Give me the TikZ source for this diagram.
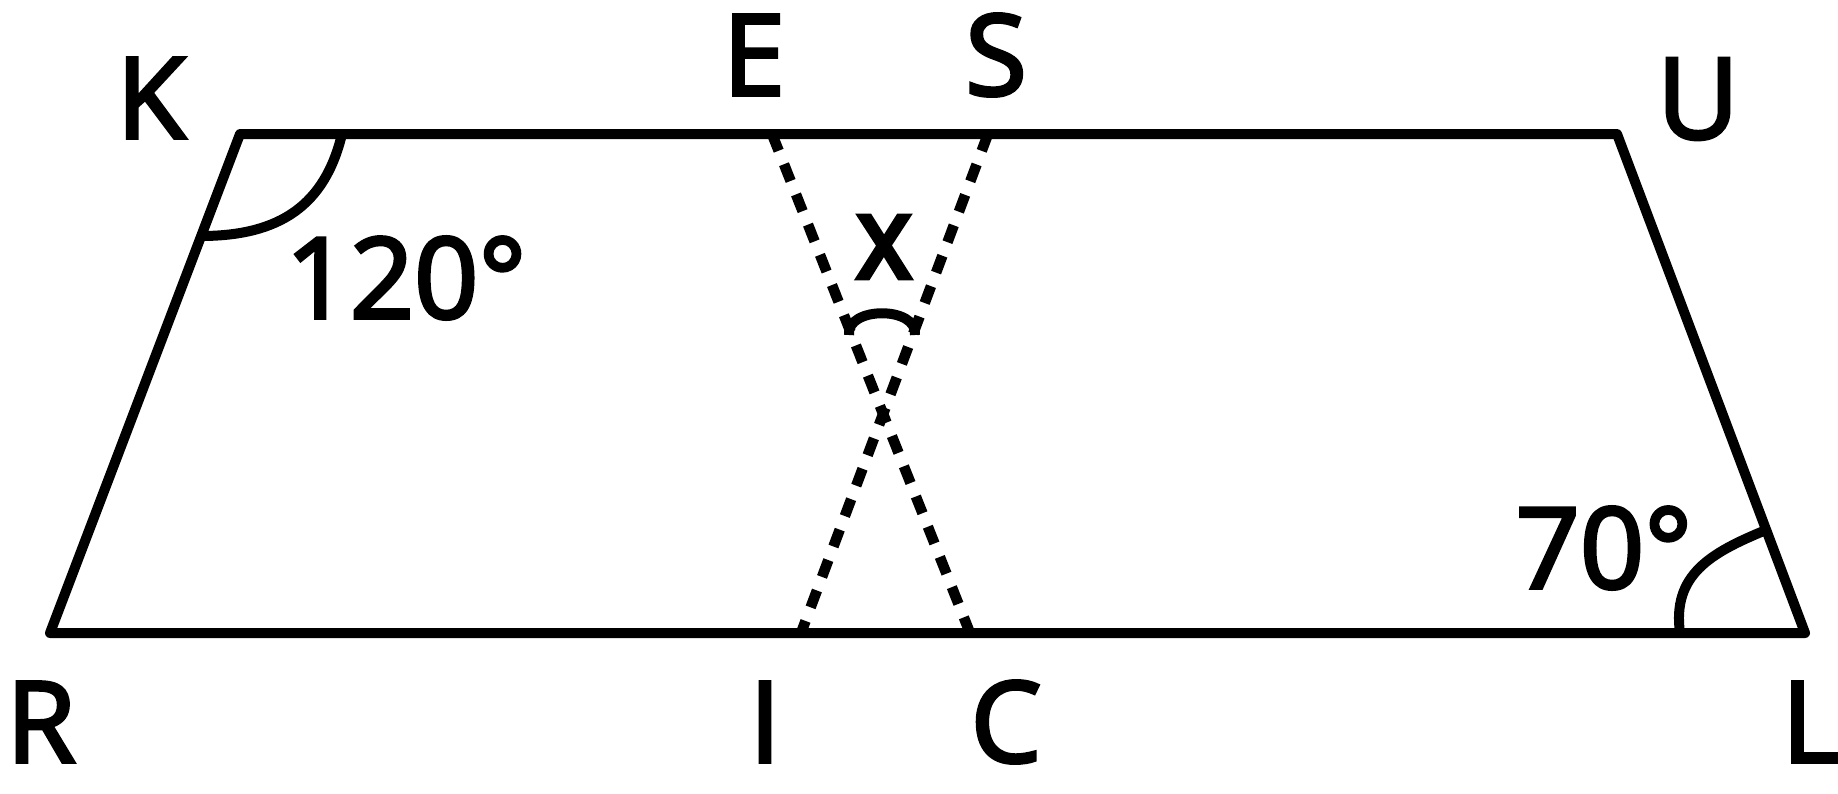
\documentclass[tikz,border=0pt]{standalone}
\usepackage{fontspec}
\newfontfamily\labelfont{Open Sans}[FakeBold=3]
\newfontfamily\smalllabelfont{Open Sans}[FakeBold=8]
\usetikzlibrary{calc}

\begin{document}
\begin{tikzpicture}[x=0.1mm, y=-0.1mm,
        side/.style={line width=1mm, line join=round, line cap=round},
        cut/.style={line width=1.05mm, dash pattern=on 1.8mm off 1.45mm},
        anglearc/.style={line width=1mm},
        vlabel/.style={inner sep=0pt, font=\labelfont\fontsize{32}{38}\selectfont},
        xlabel/.style={inner sep=0pt, font=\smalllabelfont\fontsize{24}{29}\selectfont}]
        \useasboundingbox (0,0) rectangle (1838,793);

        \coordinate (K) at (240,134);
        \coordinate (U) at (1617,134);
        \coordinate (L) at (1805,633);
        \coordinate (R) at (50,633);

        \coordinate (E) at (772,134);
        \coordinate (S) at (988,134);
        \coordinate (I) at (801,633);
        \coordinate (C) at (970,633);

        \draw[side] (K) -- (U) -- (L) -- (R) -- cycle;

        \draw[cut] (E) -- (C);
        \draw[cut] (S) -- (I);

        \draw[anglearc] (342,134) .. controls (325,205) and (280,236) .. (201,236);
        \draw[anglearc] (1680,633) .. controls (1672,575) and (1710,553) .. (1766,530);
        \draw[anglearc] (849,335) .. controls (846,306) and (918,306) .. (915,335);

        \node[vlabel] (lblK) at (151,98) {K};
        \node[vlabel] (lblU) at (1698,99) {U};
        \node[vlabel] (lblE) at (754,55) {E};
        \node[vlabel] (lblS) at (996,55) {S};
        \node[vlabel] (lblR) at (41,722) {R};
        \node[vlabel] (lblI) at (765,722) {I};
        \node[vlabel] (lblC) at (1006,722) {C};
        \node[vlabel] (lblL) at (1811,722) {L};

        \node[vlabel] (angK) at (406,278) {120°};
        \node[vlabel] (angL) at (1604,548) {70°};
        \node[xlabel] (angX) at (884,247) {X};
    \end{tikzpicture}
\end{document}
